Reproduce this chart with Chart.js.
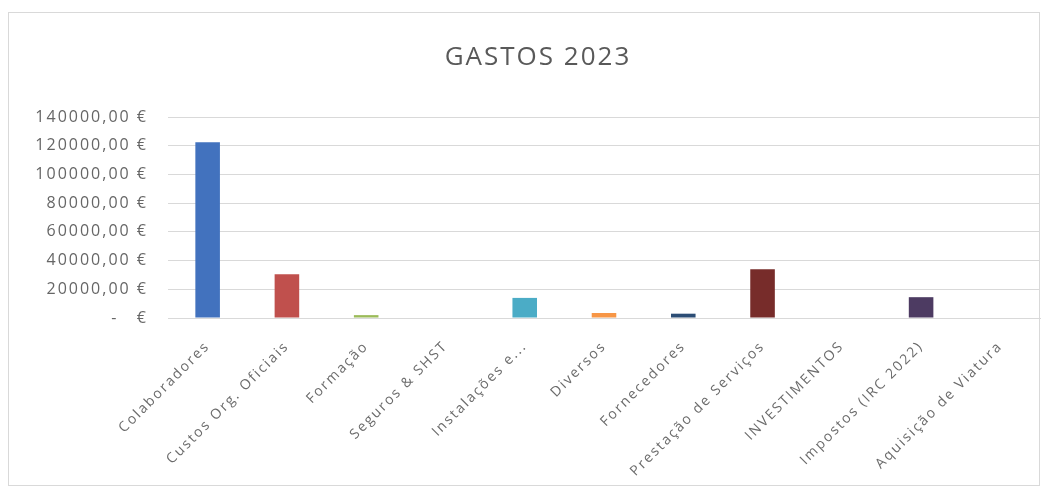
<!DOCTYPE html>
<html>
<head>
<meta charset="utf-8">
<script src="https://cdn.jsdelivr.net/npm/chart.js@4/dist/chart.umd.min.js"></script>
<style>
  html, body { margin: 0; padding: 0; background: #fff; }
  #frame { position: absolute; left: 8px; top: 12px; width: 1032px; height: 474px; border: 1px solid #d9d9d9; box-sizing: border-box; }
  #wrap { position: absolute; left: 0; top: 0; width: 1051px; height: 491px; }
</style>
</head>
<body>
<div id="frame"></div>
<div id="wrap"><canvas id="c" width="1051" height="491"></canvas></div>
<script>
const categories = ["Colaboradores", "Custos Org. Oficiais", "Formação", "Seguros & SHST", "Instalações e...", "Diversos", "Fornecedores", "Prestação de Serviços", "INVESTIMENTOS", "Impostos (IRC 2022)", "Aquisição de Viatura"];
const values = [122500, 30500, 2000, 0, 14000, 3500, 3000, 34000, 0, 14500, 0];
const barColors = ["#4272be", "#c0504d", "#9bbb59", "#8064a2", "#4bacc6", "#f79646", "#2c4d75", "#772c2a", "#5f7530", "#4d3b62", "#276a7c"];
const yTicks = [0, 20000, 40000, 60000, 80000, 100000, 120000, 140000];
const titleText = "GASTOS 2023";

const fontFamily = "'Open Sans', 'Liberation Sans', sans-serif";

const spacingPlugin = {
  id: 'spacing',
  beforeUpdate(chart) { chart.ctx.letterSpacing = '2px'; },
  beforeDraw(chart) { chart.ctx.letterSpacing = '2px'; },
  afterDraw(chart) {
    const ctx = chart.ctx;
    ctx.save();
    ctx.letterSpacing = '2px';
    ctx.font = "26px " + fontFamily;
    ctx.fillStyle = '#595959';
    ctx.textAlign = 'center';
    ctx.textBaseline = 'middle';
    ctx.fillText(titleText, 538, 58);
    ctx.restore();
  }
};

new Chart(document.getElementById('c'), {
  type: 'bar',
  plugins: [spacingPlugin],
  data: {
    labels: categories,
    datasets: [{
      data: values,
      backgroundColor: barColors,
      borderWidth: 0,
      barPercentage: 0.31,
      categoryPercentage: 1.0
    }]
  },
  options: {
    responsive: false,
    animation: false,
    layout: { padding: { left: 10, right: 11, top: 117, bottom: 0 } },
    plugins: {
      legend: { display: false },
      tooltip: { enabled: false },
      title: { display: false }
    },
    scales: {
      x: {
        grid: { display: false, drawTicks: false },
        border: { color: '#d9d9d9' },
        ticks: {
          color: '#6b6b6b',
          font: { family: fontFamily, size: 14 },
          maxRotation: 45,
          minRotation: 45,
          autoSkip: false,
          padding: 20
        },
        afterFit: (s) => { s.height = 173; }
      },
      y: {
        min: 0,
        max: 140000,
        afterBuildTicks: (s) => { s.ticks = yTicks.map(v => ({ value: v })); },
        grid: { color: '#d9d9d9', drawTicks: false },
        border: { display: false },
        ticks: {
          color: '#666666',
          font: { family: fontFamily, size: 16 },
          padding: 20,
          callback: (v) => v === 0 ? '-   €' : v.toFixed(2).replace('.', ',') + ' €'
        },
        afterFit: (s) => { s.width = 158; }
      }
    }
  }
});
</script>
</body>
</html>
